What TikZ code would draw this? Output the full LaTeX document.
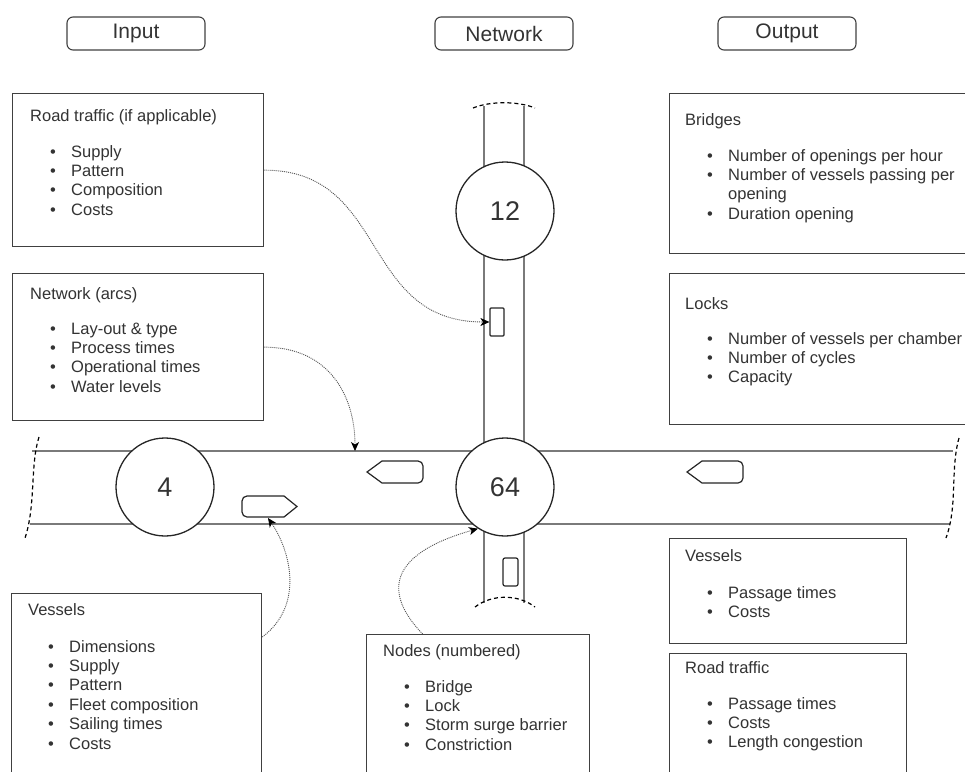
\documentclass[tikz,border=0pt]{standalone}
\usepackage{fontspec}
\setmainfont{Liberation Sans}
\usetikzlibrary{arrows.meta}
\definecolor{ink}{HTML}{333333}
\definecolor{water}{HTML}{7A7A7A}
\definecolor{frame}{HTML}{404040}
\definecolor{linkgray}{HTML}{555555}

% bullet rows of a panel: name prefix, panel left x, first baseline, items
\newcommand\panellist[4]{%
  \foreach \entry [count=\k from 0] in {#4}{%
    \node[bul] (#1b\k) at ({#2+41},{#3+19.4*\k}) {\textbullet};
    \node[itm] (#1t\k) at ({#2+59},{#3+19.4*\k}) {\entry};
  }}

\begin{document}
\begin{tikzpicture}[x=1pt,y=-1pt,
  every node/.style={text=ink},
  hdr/.style={draw=frame, line width=1.1pt, rounded corners=6pt, minimum width=138pt,
    minimum height=33pt, inner sep=0pt, font=\fontsize{21}{25}\selectfont},
  panel/.style={draw=frame, line width=1.3pt, anchor=north west, inner sep=0pt, fill=white},
  ttl/.style={anchor=base west, inner sep=0pt, font=\fontsize{16.5}{19.4}\selectfont},
  itm/.style={anchor=base west, inner sep=0pt, font=\fontsize{16.5}{19.4}\selectfont},
  bul/.style={anchor=base, inner sep=0pt, font=\fontsize{16.5}{19.4}\selectfont},
  bank/.style={draw=water, line width=2pt},
  cut/.style={draw=black, line width=1.2pt, dash pattern=on 4pt off 3pt},
  site/.style={circle, draw=black!85, line width=1.3pt, fill=white, minimum size=98pt,
    inner sep=0pt, font=\fontsize{27}{30}\selectfont},
  craft/.style={draw=black!85, line width=1.2pt, fill=white},
  car/.style={draw=black!85, line width=1.2pt, fill=white, inner sep=0pt, rounded corners=2pt},
  flow/.style={draw=linkgray, line width=0.9pt, dash pattern=on 1pt off 1pt,
    -{Stealth[length=9pt,width=8pt,inset=2.5pt,color=black]}},
]
\useasboundingbox (0,0) rectangle (965,771);
\clip (0,0) rectangle (965,771);

% column headers
\node[hdr] (hIn)  at (136,33.5) {Input};
\node[hdr] (hNet) at (504,33.5) {Network};
\node[hdr] (hOut) at (787,33.5) {Output};

% waterways
\draw[bank] (32,451) -- (953,451);
\draw[bank] (30,524) -- (950,524);
\draw[bank] (484,106) -- (484,451);
\draw[bank] (524,106) -- (524,451);
\draw[bank] (484,524) -- (484,603);
\draw[bank] (524,524) -- (524,603);
\draw[cut] (39,437) .. controls (30,465) and (36,505) .. (25,538);
\draw[cut] (959,438) .. controls (950,470) and (958,505) .. (946,538);
\draw[cut] (473,108) .. controls (490,101) and (518,101) .. (535,108);
\draw[cut] (475,607) .. controls (492,594) and (518,594) .. (535,607);

% numbered network nodes
\node[site] (n12) at (505,211) {12};
\node[site] (n4)  at (165,487) {4};
\node[site] (n64) at (505,487) {64};

% vessels in the channel
\begin{scope}[shift={(242,496)}]
  \draw[craft] (55,10.5) -- (42,21) -- (5,21) .. controls (2.2,21) and (0,18.8) .. (0,16)
    -- (0,5) .. controls (0,2.2) and (2.2,0) .. (5,0) -- (42,0) -- cycle;
\end{scope}
\begin{scope}[shift={(367,461)}]
  \draw[craft] (0,11) -- (15,22) -- (51,22) .. controls (53.8,22) and (56,19.8) .. (56,17)
    -- (56,5) .. controls (56,2.2) and (53.8,0) .. (51,0) -- (15,0) -- cycle;
\end{scope}
\begin{scope}[shift={(687,461)}]
  \draw[craft] (0,11) -- (15,22) -- (51,22) .. controls (53.8,22) and (56,19.8) .. (56,17)
    -- (56,5) .. controls (56,2.2) and (53.8,0) .. (51,0) -- (15,0) -- cycle;
\end{scope}
\coordinate (craftA) at (268,518);
\coordinate (arcTop) at (355,451);

% road vehicles on the bridge crossing
\node[car, minimum width=14pt, minimum height=28pt, rounded corners=1pt] (carN) at (497,322) {};
\node[car, minimum width=15pt, minimum height=28pt] (carS) at (510.5,572) {};

% input panels
\node[panel, minimum width=251pt, minimum height=153pt] (rt) at (12,93) {};
\node[ttl] (rtT) at (30,121) {Road traffic (if applicable)};
\panellist{rt}{12}{157}{Supply,Pattern,Composition,Costs}

\node[panel, minimum width=251pt, minimum height=147pt] (na) at (12,273) {};
\node[ttl] (naT) at (30,299) {Network (arcs)};
\panellist{na}{12}{334}{Lay-out \& type,Process times,Operational times,Water levels}

\node[panel, minimum width=250pt, minimum height=220pt] (vi) at (11,593) {};
\node[ttl] (viT) at (28,615) {Vessels};
\panellist{vi}{10}{652}{Dimensions,Supply,Pattern,Fleet composition,Sailing times,Costs}

% network panel
\node[panel, minimum width=223pt, minimum height=180pt] (nb) at (366,634) {};
\node[ttl] (nbT) at (383,656) {Nodes (numbered)};
\panellist{nb}{366}{692}{Bridge,Lock,Storm surge barrier,Constriction}

% output panels
\node[panel, minimum width=330pt, minimum height=160pt] (br) at (669,93) {};
\node[ttl] (brT) at (685,125) {Bridges};
\panellist{br}{669}{161}{Number of openings per hour,Number of vessels passing per}
\node[itm] (brW) at (728,199.8) {opening};
\node[bul] (brb2) at (710,219.2) {\textbullet};
\node[itm] (brt2) at (728,219.2) {Duration opening};

\node[panel, minimum width=330pt, minimum height=151pt] (lk) at (669,273) {};
\node[ttl] (lkT) at (685,309) {Locks};
\panellist{lk}{669}{344}{Number of vessels per chamber,Number of cycles,Capacity}

\node[panel, minimum width=237pt, minimum height=105pt] (vo) at (669,538) {};
\node[ttl] (voT) at (685,561) {Vessels};
\panellist{vo}{669}{598}{Passage times,Costs}

\node[panel, minimum width=237pt, minimum height=160pt] (ro) at (669,653) {};
\node[ttl] (roT) at (685,673) {Road traffic};
\panellist{ro}{669}{709}{Passage times,Costs,Length congestion}

% relations between input and network elements
\draw[flow] (rt.east) .. controls +(125,0) and +(-130,0) .. (carN.west);
\draw[flow] (na.east) .. controls +(65,0) and +(0,-55) .. (arcTop);
\draw[flow] ([yshift=-44pt]vi.north east) .. controls (305,605) and (290,550) .. (craftA);
\draw[flow] ([xshift=-55.5pt]nb.north) .. controls (385,595) and (385,555) .. (n64.237);
\end{tikzpicture}
\end{document}
